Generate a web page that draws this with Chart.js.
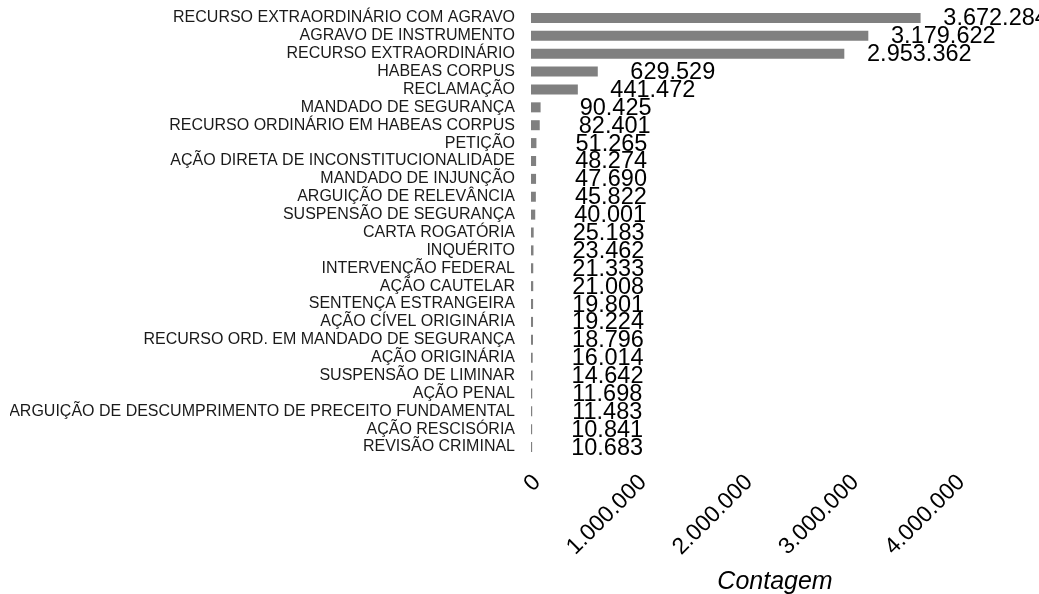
<!DOCTYPE html>
<html><head><meta charset="utf-8">
<script src="https://cdn.jsdelivr.net/npm/chart.js@4/dist/chart.umd.min.js"></script>
<style>html,body{margin:0;padding:0;background:#fff}#w{width:1039px;height:594px}</style>
</head><body><div id="w"><canvas id="c"></canvas></div>
<script>
const categories = ["RECURSO EXTRAORDINÁRIO COM AGRAVO","AGRAVO DE INSTRUMENTO","RECURSO EXTRAORDINÁRIO","HABEAS CORPUS","RECLAMAÇÃO","MANDADO DE SEGURANÇA","RECURSO ORDINÁRIO EM HABEAS CORPUS","PETIÇÃO","AÇÃO DIRETA DE INCONSTITUCIONALIDADE","MANDADO DE INJUNÇÃO","ARGUIÇÃO DE RELEVÂNCIA","SUSPENSÃO DE SEGURANÇA","CARTA ROGATÓRIA","INQUÉRITO","INTERVENÇÃO FEDERAL","AÇÃO CAUTELAR","SENTENÇA ESTRANGEIRA","AÇÃO CÍVEL ORIGINÁRIA","RECURSO ORD. EM MANDADO DE SEGURANÇA","AÇÃO ORIGINÁRIA","SUSPENSÃO DE LIMINAR","AÇÃO PENAL","ARGUIÇÃO DE DESCUMPRIMENTO DE PRECEITO FUNDAMENTAL","AÇÃO RESCISÓRIA","REVISÃO CRIMINAL"];
const counts = [3672284,3179622,2953362,629529,441472,90425,82401,51265,48274,47690,45822,40001,25183,23462,21333,21008,19801,19224,18796,16014,14642,11698,11483,10841,10683];
const xTicks = [0,1000000,2000000,3000000,4000000];
const xMax = 4600000;

function fmt(n){return String(Math.round(n)).replace(/\B(?=(\d{3})+(?!\d))/g,'.');}

const valueLabels = {
  id:'valueLabels',
  afterDatasetsDraw(chart){
    const ctx = chart.ctx, xs = chart.scales.x, ys = chart.scales.y;
    ctx.save();
    ctx.font = '23.5px "Liberation Sans", Arial, sans-serif';
    ctx.fillStyle = '#000';
    ctx.textAlign = 'center';
    ctx.textBaseline = 'middle';
    counts.forEach((v,i)=>{
      ctx.fillText(fmt(v), xs.getPixelForValue(v)+75, ys.getPixelForValue(i)+1);
    });
    ctx.restore();
  }
};

new Chart(document.getElementById('c'),{
  type:'bar',
  data:{labels:categories,datasets:[{data:counts,backgroundColor:'#808080',categoryPercentage:1,barPercentage:0.56}]},
  options:{
    indexAxis:'y',responsive:true,maintainAspectRatio:false,animation:false,
    layout:{padding:{left:10,right:20,top:9,bottom:0}},
    plugins:{legend:{display:false},tooltip:{enabled:false}},
    scales:{
      y:{grid:{display:false,drawTicks:false},border:{display:false},
         afterFit(s){s.width = 521; s.paddingTop = 0; s.paddingBottom = 0;},
         ticks:{color:'#1a1a1a',padding:16,autoSkip:false,font:{family:'"Liberation Sans", Arial, sans-serif',size:16}}},
      x:{min:0,max:xMax,grid:{display:false,drawTicks:false},border:{display:false},
         afterBuildTicks(s){s.ticks = xTicks.map(v=>({value:v}));},
         afterFit(s){s.height = 138;},
         ticks:{color:'#000',minRotation:45,maxRotation:45,padding:13,labelOffset:6,callback:v=>fmt(v),
                font:{family:'"Liberation Sans", Arial, sans-serif',size:23}},
         title:{display:true,text:'Contagem',color:'#000',padding:{top:0,bottom:0},
                font:{family:'"Liberation Sans", Arial, sans-serif',size:25,style:'italic',lineHeight:0.95}}}
    }
  },
  plugins:[valueLabels]
});
</script></body></html>
